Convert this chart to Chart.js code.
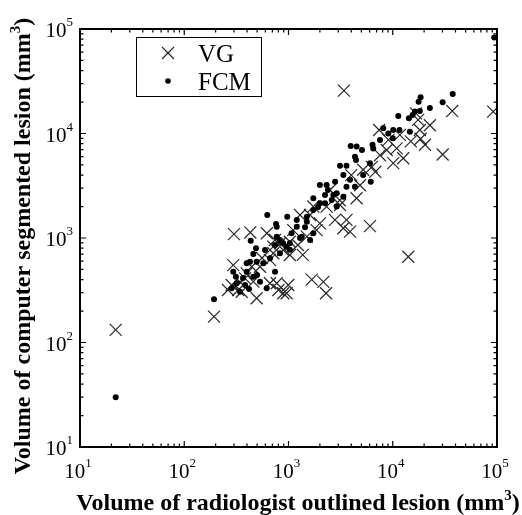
<!DOCTYPE html>
<html>
<head>
<meta charset="utf-8">
<script src="https://cdn.jsdelivr.net/npm/chart.js@4/dist/chart.umd.min.js"></script>
<style>
html,body{margin:0;padding:0;background:#fff;}
#wrap{width:522px;height:515px;position:relative;}
</style>
</head>
<body>
<div id="wrap"><canvas id="c" width="522" height="515"></canvas></div>
<script>
// ---- data ----
const seriesNames = ['VG', 'FCM'];
const vgX = [22, 193, 3400, 37200, 92000, 30100, 7400, 16700, 18200, 18500, 14900, 9100, 10900, 12600, 10100, 8750, 6300, 6800, 5200, 4500, 4000, 3100,
  300, 430, 620, 1370, 1670, 2160, 2290, 295, 285, 356, 495, 664, 800, 960, 995, 383, 460, 664, 890, 1030, 1500, 1860, 2000, 2790, 3600, 3890, 3360,
  533, 444, 715, 1610, 2320, 3120, 14100, 6050, 1730, 1110, 830, 715, 397, 330, 771, 891, 2500, 4850, 1290, 7550, 11700, 22700, 17500, 20400,
  742, 1030, 1230, 557, 343, 263];
const vgY = [132, 177, 25700, 16400, 16200, 6300, 10800, 15600, 10800, 8900, 8400, 8700, 7200, 5800, 5200, 6950, 4800, 4300, 4500, 2400, 4000, 2300,
  1090, 1130, 1110, 690, 400, 380, 296, 550, 355, 306, 265, 369, 318, 296, 355, 411, 382, 617, 768, 920, 1030, 1190, 1380, 1490, 1490, 1150, 1240,
  531, 531, 826, 1660, 2000, 2070, 662, 1300, 2000, 1190, 890, 714, 459, 318, 369, 296, 2880, 3200, 1660, 6200, 9700, 12000, 13500, 7800,
  957, 688, 857, 644, 379, 318];
const fcmX = [22, 193, 94000, 37600, 30100, 18500, 17700, 18200, 16300, 11300, 14300, 14600, 11600, 10100, 9060, 10000, 8100, 6400, 6500, 3950, 4500,
  4340, 4440, 3120, 3600, 6050, 5200, 6150, 3360, 2800, 3890, 3600, 4340, 2900, 3360, 2600, 2900, 626, 973, 760, 771, 434, 488, 460, 771, 961, 829,
  664, 573, 495, 427, 742, 295, 313, 397, 460, 533, 318, 383, 618, 285, 343, 1200, 1340, 1500, 1730, 2000, 1070, 1610, 1730, 15500, 2000, 2320,
  2690, 1730, 2240, 1200, 1500, 1290, 829, 1030, 397, 5070, 7550, 22700, 2390,
  885, 1030, 742, 595, 366, 418, 499, 1440, 2240, 1920];
const fcmY = [30, 259, 83000, 23900, 19900, 22200, 20100, 16400, 16200, 14700, 14000, 10400, 10800, 10800, 10000, 9000, 11200, 7800, 7200, 7600, 7500,
  6000, 5570, 4900, 4900, 5200, 4000, 3460, 4000, 3460, 3600, 3100, 3100, 2680, 2480, 2310, 2000, 1660, 1600, 1360, 1280, 942, 800, 703, 1030, 826, 714,
  640, 573, 593, 593, 476, 476, 426, 476, 426, 382, 369, 355, 330, 330, 306, 1280, 1030, 1600, 1850, 2150, 1110, 957, 1110, 15000, 3220, 3220,
  2580, 2400, 2150, 1490, 1430, 1000, 957, 890, 573, 6950, 8660, 17500, 2880,
  895, 770, 857, 768, 414, 325, 443, 1270, 2580, 1980];
const tickDecades = [10, 100, 1000, 10000, 100000];
const tickExponents = ['1', '2', '3', '4', '5'];
const xTitle = ['Volume of radiologist outlined lesion (mm', '3', ')'];
const yTitle = ['Volume of computer segmented lesion (mm', '3', ')'];

const toPts = (xs, ys) => xs.map((x, i) => ({x: x, y: ys[i]}));

const SERIF = '"Liberation Serif", "DejaVu Serif", serif';

function drawSupText(ctx, parts, x, y, bigFont, smallFont, supRise, align) {
  ctx.font = bigFont; const w0 = ctx.measureText(parts[0]).width;
  ctx.font = smallFont; const w1 = ctx.measureText(parts[1]).width;
  ctx.font = bigFont; const w2 = parts[2] ? ctx.measureText(parts[2]).width : 0;
  const total = w0 + w1 + w2;
  let sx = x;
  if (align === 'center') sx = x - total / 2;
  else if (align === 'right') sx = x - total;
  ctx.textAlign = 'left';
  ctx.textBaseline = 'alphabetic';
  ctx.font = bigFont; ctx.fillText(parts[0], sx, y);
  ctx.font = smallFont; ctx.fillText(parts[1], sx + w0, y - supRise);
  if (parts[2]) { ctx.font = bigFont; ctx.fillText(parts[2], sx + w0 + w1, y); }
  return total;
}

const matlabBox = {
  id: 'matlabBox',
  afterDatasetsDraw(chart) {
    const ctx = chart.ctx;
    const a = chart.chartArea;
    const xs = chart.scales.x, ys = chart.scales.y;
    ctx.save();
    ctx.strokeStyle = '#000';
    ctx.fillStyle = '#000';
    // ticks (inward, all four sides)
    ctx.lineWidth = 1.2;
    ctx.beginPath();
    for (let d = 0; d < tickDecades.length; d++) {
      for (let m = 1; m <= 9; m++) {
        const v = tickDecades[d] * m;
        if (v > tickDecades[tickDecades.length - 1]) break;
        const len = m === 1 ? 6 : 3.5;
        const px = xs.getPixelForValue(v);
        ctx.moveTo(px, a.bottom); ctx.lineTo(px, a.bottom - len);
        ctx.moveTo(px, a.top); ctx.lineTo(px, a.top + len);
        const py = ys.getPixelForValue(v);
        ctx.moveTo(a.left, py); ctx.lineTo(a.left + len, py);
        ctx.moveTo(a.right, py); ctx.lineTo(a.right - len, py);
      }
    }
    ctx.stroke();
    // box
    ctx.lineWidth = 2;
    ctx.strokeRect(a.left, a.top, a.right - a.left, a.bottom - a.top);

    // tick labels
    const big = '21px ' + SERIF, small = '13px ' + SERIF;
    tickDecades.forEach((v, i) => {
      const px = xs.getPixelForValue(v);
      drawSupText(ctx, ['10', tickExponents[i], ''], px - 2, a.bottom + 31, big, small, 11, 'center');
      const py = ys.getPixelForValue(v);
      drawSupText(ctx, ['10', tickExponents[i], ''], a.left - 7, py + 8, big, small, 11, 'right');
    });

    // axis titles
    const tb = 'bold 24px ' + SERIF, ts = 'bold 15px ' + SERIF;
    drawSupText(ctx, xTitle, 298, 510, tb, ts, 10, 'center');
    ctx.save();
    ctx.translate(30, (a.top + a.bottom) / 2 + 8);
    ctx.rotate(-Math.PI / 2);
    drawSupText(ctx, yTitle, 0, 0, tb, ts, 10, 'center');
    ctx.restore();

    // legend box
    const lx = 136, ly = 37, lw = 125, lh = 59;
    ctx.fillStyle = '#fff';
    ctx.fillRect(lx, ly, lw, lh);
    ctx.lineWidth = 1;
    ctx.strokeStyle = '#000';
    ctx.strokeRect(lx + 0.5, ly + 0.5, lw, lh);
    ctx.fillStyle = '#000';
    // VG marker
    ctx.strokeStyle = '#222';
    ctx.lineWidth = 1.2;
    const r = 6, cx = 168, cy1 = 53, cy2 = 81;
    ctx.beginPath();
    ctx.moveTo(cx - r, cy1 - r); ctx.lineTo(cx + r, cy1 + r);
    ctx.moveTo(cx - r, cy1 + r); ctx.lineTo(cx + r, cy1 - r);
    ctx.stroke();
    ctx.beginPath(); ctx.arc(cx, cy2, 2.8, 0, Math.PI * 2); ctx.fill();
    ctx.font = '25px ' + SERIF;
    ctx.textAlign = 'left'; ctx.textBaseline = 'alphabetic';
    ctx.fillText(seriesNames[0], 198, 62);
    ctx.fillText(seriesNames[1], 198, 90);
    ctx.restore();
  }
};

new Chart(document.getElementById('c'), {
  type: 'scatter',
  data: {
    datasets: [
      { label: seriesNames[0], data: toPts(vgX, vgY), pointStyle: 'crossRot', pointRadius: 8.5, pointBorderWidth: 1.2,
        borderColor: '#2a2a2a', backgroundColor: '#2a2a2a', order: 1 },
      { label: seriesNames[1], data: toPts(fcmX, fcmY), pointStyle: 'circle', pointRadius: 3, pointBorderWidth: 0,
        borderColor: '#000', backgroundColor: '#000', order: 0 }
    ]
  },
  options: {
    responsive: false,
    animation: false,
    events: [],
    layout: { padding: { left: 80, top: 29, right: 25, bottom: 68 } },
    plugins: { legend: { display: false }, tooltip: { enabled: false } },
    scales: {
      x: { type: 'logarithmic', min: 10, max: 100000, position: 'bottom',
           grid: { display: false }, border: { display: false }, ticks: { display: false },
           afterFit: s => { s.height = 0; } },
      y: { type: 'logarithmic', min: 10, max: 100000, position: 'left',
           grid: { display: false }, border: { display: false }, ticks: { display: false },
           afterFit: s => { s.width = 0; } }
    }
  },
  plugins: [matlabBox]
});
</script>
</body>
</html>
